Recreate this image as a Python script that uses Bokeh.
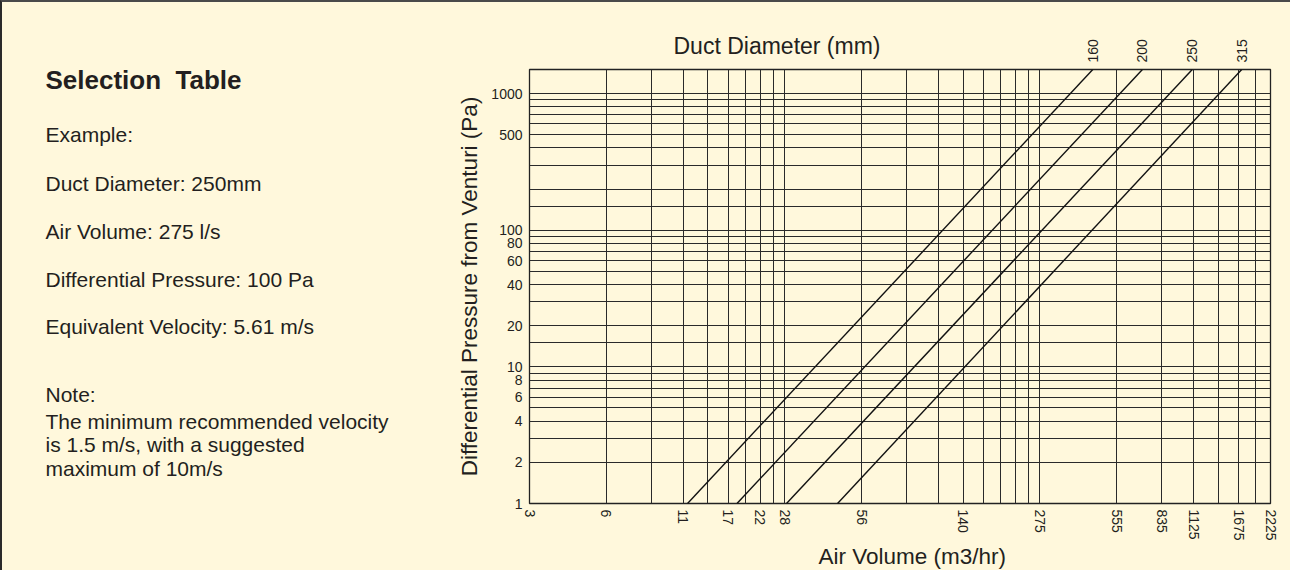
import math
from bokeh.plotting import figure
from bokeh.models import FixedTicker, Range1d
from bokeh.layouts import row, column
from bokeh.embed import file_html
from bokeh.resources import INLINE
from bokeh.core.properties import value

# ---------------- data ----------------
# x axis: log grid positions and the air-volume labels printed under them (m3/hr)
x_tick_pos = [1, 2, 4, 6, 8, 10, 20, 50, 100, 200, 300, 400, 600, 800]
x_tick_labels = ["3", "6", "11", "17", "22", "28", "56", "140", "275",
                 "555", "835", "1125", "1675", "2225"]
x_grid = [1, 2, 3, 4, 5, 6, 7, 8, 9, 10, 20, 30, 40, 50, 60, 70, 80, 90,
          100, 200, 300, 400, 500, 600, 700, 800]
# y axis: differential pressure (Pa)
y_ticks = [1, 2, 4, 6, 8, 10, 20, 40, 60, 80, 100, 500, 1000]
y_grid = [1, 2, 3, 4, 5, 6, 7, 8, 9, 10, 15, 20, 30, 40, 50, 60, 70, 80, 90,
          100, 150, 200, 300, 400, 500, 600, 700, 800, 900, 1000]
p_min, p_max = 1, 1500
x_min, x_max = 1, 800
# duct diameter lines (flow position at 1 Pa and at the top of the chart)
duct_diameters = ["160", "200", "250", "315"]
flow_at_p_min = [4.16, 6.5, 10.16, 16.1]
flow_at_p_max = [161.0, 252.0, 395.0, 617.0]

heading = "Selection\u00a0 Table"
example_lines = ["Example:", "Duct Diameter: 250mm", "Air Volume: 275 l/s",
                 "Differential Pressure: 100 Pa", "Equivalent Velocity: 5.61 m/s"]
note_lines = ["Note:", "The minimum recommended velocity",
              "is 1.5 m/s, with a suggested", "maximum of 10m/s"]
top_title = "Duct Diameter (mm)"
x_title = "Air Volume (m3/hr)"
y_title = "Differential Pressure from Venturi (Pa)"

# ---------------- style ----------------
BG = "#FFF8DC"
INK = "#231F20"
GRID = "#2a2a2a"
FONT = "Liberation Sans"

# page geometry (px)
FR_L, FR_R, FR_T, FR_B = 529, 1270, 69, 504   # chart frame
OX = OY = 2                                   # outer border width
TOTAL_W, TOTAL_H = 1290, 570
SPLIT_X = 430                                 # text panel / chart boundary
ROW_BOTTOM = 543                              # end of tick labels area
RIGHT_W = TOTAL_W - SPLIT_X
TOP_H = FR_T - 1 - OY
MID_H = ROW_BOTTOM - (OY + TOP_H)
BOT_H = TOTAL_H - ROW_BOTTOM


def base(y, size):
    """anchor that puts the text baseline at page y for a given font size"""
    return y - 0.35 * size


x_range = Range1d(x_min, x_max)


def strip(height, y0):
    f = figure(width=RIGHT_W, height=height, x_axis_type="log",
               x_range=x_range, y_range=Range1d(y0 + height, y0),
               output_backend="svg", toolbar_location=None, title=None,
               x_axis_location=None, y_axis_location=None,
               min_border_left=FR_L - SPLIT_X, min_border_right=TOTAL_W - FR_R,
               min_border_top=0, min_border_bottom=0)
    f.grid.visible = False
    f.outline_line_color = None
    f.background_fill_color = BG
    f.border_fill_color = BG
    return f


# ---------------- top strip: title + diameter labels ----------------
top = strip(TOP_H, OY)
top.text(x=[x_min], y=[base(54, 23)], text=[top_title], x_offset=144,
         text_font=value(FONT), text_font_size="23px", text_color=INK,
         text_align="left", text_baseline="alphabetic")
top.text(x=flow_at_p_max, y=[62] * len(duct_diameters), text=duct_diameters,
         angle=math.pi / 2, text_align="left", text_baseline="middle",
         text_font=value(FONT), text_font_size="14px", text_color=INK)

# ---------------- bottom strip: x-axis title ----------------
bottom = strip(BOT_H, ROW_BOTTOM)
bottom.text(x=[x_min], y=[base(564, 22.5)], text=[x_title], x_offset=289,
            text_font=value(FONT), text_font_size="22.5px", text_color=INK,
            text_align="left", text_baseline="alphabetic")

# ---------------- left text panel (full height) ----------------
left = figure(width=SPLIT_X - OX, height=TOTAL_H - OY,
              x_range=Range1d(OX, SPLIT_X), y_range=Range1d(TOTAL_H, OY),
              output_backend="svg", toolbar_location=None, title=None,
              x_axis_location=None, y_axis_location=None, min_border=0,
              min_border_left=0, min_border_right=0,
              min_border_top=0, min_border_bottom=0)
left.grid.visible = False
left.outline_line_color = None
left.background_fill_color = BG
left.border_fill_color = BG

text_x = 45
left.text(x=[text_x], y=[base(88.3, 26)], text=[heading], text_font=value(FONT),
          text_font_size="26px", text_font_style="bold", text_color=INK,
          text_baseline="alphabetic")
ex_y = [base(b, 21) for b in (141.7, 190, 238.3, 286, 333.3)]
left.text(x=[text_x] * len(example_lines), y=ex_y, text=example_lines,
          text_font=value(FONT), text_font_size="21px", text_color=INK,
          text_baseline="alphabetic")
note_y = [base(b, 21) for b in (401.7, 428.3, 451.7, 475)]
left.text(x=[text_x] * len(note_lines), y=note_y, text=note_lines,
          text_font=value(FONT), text_font_size="21px", text_color=INK,
          text_baseline="alphabetic")

# ---------------- chart ----------------
p = figure(width=RIGHT_W, height=MID_H, x_axis_type="log",
           y_axis_type="log", x_range=x_range, y_range=Range1d(p_min, p_max),
           output_backend="svg", toolbar_location=None, title=None,
           min_border_left=FR_L - SPLIT_X, min_border_right=TOTAL_W - FR_R,
           min_border_top=1, min_border_bottom=ROW_BOTTOM - FR_B)
p.background_fill_color = BG
p.border_fill_color = BG
p.outline_line_color = "#222222"
p.outline_line_width = 1.3

p.xgrid.ticker = FixedTicker(ticks=x_grid)
p.ygrid.ticker = FixedTicker(ticks=y_grid)
for g in (p.xgrid, p.ygrid):
    g.grid_line_color = GRID
    g.grid_line_alpha = 1.0
    g.grid_line_width = 1

p.xaxis.ticker = FixedTicker(ticks=x_tick_pos)
p.xaxis.major_label_overrides = dict(zip(x_tick_pos, x_tick_labels))
p.xaxis.major_label_orientation = "vertical"
p.yaxis.ticker = FixedTicker(ticks=y_ticks)
p.yaxis.major_label_overrides = {t: str(t) for t in y_ticks}

for ax in (p.xaxis, p.yaxis):
    ax.axis_line_color = None
    ax.major_tick_line_color = None
    ax.minor_tick_line_color = None
    ax.major_tick_out = 0
    ax.minor_tick_out = 0
    ax.major_label_text_font = FONT
    ax.major_label_text_font_size = "14px"
    ax.major_label_text_color = INK
    ax.axis_label_text_font = FONT
    ax.axis_label_text_font_size = "22.5px"
    ax.axis_label_text_font_style = "normal"
    ax.axis_label_text_color = INK

p.xaxis.major_label_standoff = 6
p.yaxis.major_label_standoff = 7
p.yaxis.axis_label = y_title
p.yaxis.axis_label_standoff = 6

# diameter lines
p.multi_line(xs=[[a, b] for a, b in zip(flow_at_p_min, flow_at_p_max)],
             ys=[[p_min, p_max] for _ in duct_diameters],
             line_color="#111111", line_width=1.4)

layout = row(left, column(top, p, bottom),
             styles={"border-left": "2px solid #2a2a2a",
                     "border-top": "2px solid #4a4a4a",
                     "background-color": BG})

open("out.html", "w").write(file_html(layout, INLINE))
